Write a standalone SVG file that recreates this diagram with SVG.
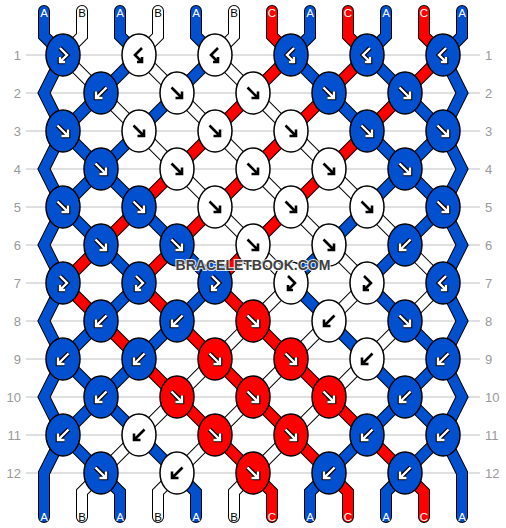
<svg xmlns="http://www.w3.org/2000/svg" xmlns:xlink="http://www.w3.org/1999/xlink" width="506" height="528" viewBox="0 0 506 528">
<style>
.rl{stroke:#c0c0c0;stroke-width:1}
.rn{font-family:"Liberation Sans",Arial,sans-serif;font-size:13px;fill:#999}
.sl{font-family:"Liberation Sans",Arial,sans-serif;font-size:11.5px;text-anchor:middle}
.lw{fill:#fff}.lb{fill:#000}
.o{fill:none;stroke:#000;stroke-width:12;stroke-linecap:round;stroke-linejoin:miter}
.f{fill:none;stroke-width:10;stroke-linecap:round;stroke-linejoin:miter}
.cA{stroke:#0050d0}.cB{stroke:#fff}.cC{stroke:#f00}
.kA,.kB,.kC{stroke:#000;stroke-width:1.5}
.kA{fill:#0050d0}.kB{fill:#fff}.kC{fill:#f00}
.ao{fill:none;stroke:#000;stroke-width:4.6}
.aw{fill:none;stroke:#fff;stroke-width:2.4}
.ab{fill:none;stroke:#000;stroke-width:2.6}
.wm{font-family:"Liberation Sans",Arial,sans-serif;font-weight:bold;font-size:14px;fill:#404040;stroke:#fff;stroke-opacity:0.85;stroke-width:2.2;paint-order:stroke;text-anchor:middle}
</style>
<defs>
<path id="gf" d="M-5.5,-5.5 L5,5 M5,-1.5 L5,5 L-1.5,5"/>
<path id="gb" d="M5.5,-5.5 L-5,5 M-5,-1.5 L-5,5 L1.5,5"/>
<path id="gfb" d="M-3,-7 L4,0 L-3,7 M-3,2 L-3,7 L2,7"/>
<path id="gbf" d="M3,-7 L-4,0 L3,7 M3,2 L3,7 L-2,7"/>
<path id="s0" d="M44,11 L44,36 L63,55 L44,93 L63,131 L101,169 L139,207 L177,245 L215,283 L177,321 L139,359 L101,397 L63,435 L44,473 L44,517"/>
<path id="s1" d="M82,11 L82,36 L63,55 L101,93 L139,131 L177,169 L215,207 L253,245 L291,283 L253,321 L215,359 L177,397 L139,435 L101,473 L82,492 L82,517"/>
<path id="s2" d="M120,11 L120,36 L139,55 L101,93 L63,131 L44,169 L63,207 L101,245 L139,283 L101,321 L63,359 L44,397 L63,435 L101,473 L120,492 L120,517"/>
<path id="s3" d="M158,11 L158,36 L139,55 L177,93 L215,131 L253,169 L291,207 L329,245 L367,283 L329,321 L291,359 L253,397 L215,435 L177,473 L158,492 L158,517"/>
<path id="s4" d="M196,11 L196,36 L215,55 L177,93 L139,131 L101,169 L63,207 L44,245 L63,283 L44,321 L63,359 L101,397 L139,435 L177,473 L196,492 L196,517"/>
<path id="s5" d="M234,11 L234,36 L215,55 L253,93 L291,131 L329,169 L367,207 L405,245 L443,283 L405,321 L367,359 L329,397 L291,435 L253,473 L234,492 L234,517"/>
<path id="s6" d="M272,11 L272,36 L291,55 L253,93 L215,131 L177,169 L139,207 L101,245 L63,283 L101,321 L139,359 L177,397 L215,435 L253,473 L272,492 L272,517"/>
<path id="s7" d="M310,11 L310,36 L291,55 L329,93 L367,131 L405,169 L443,207 L462,245 L443,283 L462,321 L443,359 L405,397 L367,435 L329,473 L310,492 L310,517"/>
<path id="s8" d="M348,11 L348,36 L367,55 L329,93 L291,131 L253,169 L215,207 L177,245 L139,283 L177,321 L215,359 L253,397 L291,435 L329,473 L348,492 L348,517"/>
<path id="s9" d="M386,11 L386,36 L367,55 L405,93 L443,131 L462,169 L443,207 L405,245 L367,283 L405,321 L443,359 L462,397 L443,435 L405,473 L386,492 L386,517"/>
<path id="s10" d="M424,11 L424,36 L443,55 L405,93 L367,131 L329,169 L291,207 L253,245 L215,283 L253,321 L291,359 L329,397 L367,435 L405,473 L424,492 L424,517"/>
<path id="s11" d="M462,11 L462,36 L443,55 L462,93 L443,131 L405,169 L367,207 L329,245 L291,283 L329,321 L367,359 L405,397 L443,435 L462,473 L462,517"/>
</defs>
<rect width="506" height="528" fill="#fff"/>
<g id="rows">
<line class="rl" x1="26" y1="55" x2="480" y2="55"/>
<line class="rl" x1="26" y1="93" x2="480" y2="93"/>
<line class="rl" x1="26" y1="131" x2="480" y2="131"/>
<line class="rl" x1="26" y1="169" x2="480" y2="169"/>
<line class="rl" x1="26" y1="207" x2="480" y2="207"/>
<line class="rl" x1="26" y1="245" x2="480" y2="245"/>
<line class="rl" x1="26" y1="283" x2="480" y2="283"/>
<line class="rl" x1="26" y1="321" x2="480" y2="321"/>
<line class="rl" x1="26" y1="359" x2="480" y2="359"/>
<line class="rl" x1="26" y1="397" x2="480" y2="397"/>
<line class="rl" x1="26" y1="435" x2="480" y2="435"/>
<line class="rl" x1="26" y1="473" x2="480" y2="473"/>
<g class="rn" text-anchor="end">
<text x="21" y="59.5">1</text><text x="21" y="97.5">2</text><text x="21" y="135.5">3</text><text x="21" y="173.5">4</text><text x="21" y="211.5">5</text><text x="21" y="249.5">6</text><text x="21" y="287.5">7</text><text x="21" y="325.5">8</text><text x="21" y="363.5">9</text><text x="21" y="401.5">10</text><text x="21" y="439.5">11</text><text x="21" y="477.5">12</text>
</g>
<g class="rn" text-anchor="start">
<text x="485" y="59.5">1</text><text x="485" y="97.5">2</text><text x="485" y="135.5">3</text><text x="485" y="173.5">4</text><text x="485" y="211.5">5</text><text x="485" y="249.5">6</text><text x="485" y="287.5">7</text><text x="485" y="325.5">8</text><text x="485" y="363.5">9</text><text x="485" y="401.5">10</text><text x="485" y="439.5">11</text><text x="485" y="477.5">12</text>
</g>
</g>
<g id="connectors">
<use href="#s0" class="o"/><use href="#s1" class="o"/><use href="#s2" class="o"/><use href="#s3" class="o"/><use href="#s4" class="o"/><use href="#s5" class="o"/><use href="#s6" class="o"/><use href="#s7" class="o"/><use href="#s8" class="o"/><use href="#s9" class="o"/><use href="#s10" class="o"/><use href="#s11" class="o"/>
<use href="#s0" class="f cA"/><use href="#s1" class="f cB"/><use href="#s2" class="f cA"/><use href="#s3" class="f cB"/><use href="#s4" class="f cA"/><use href="#s5" class="f cB"/><use href="#s6" class="f cC"/><use href="#s7" class="f cA"/><use href="#s8" class="f cC"/><use href="#s9" class="f cA"/><use href="#s10" class="f cC"/><use href="#s11" class="f cA"/>
</g>
<g id="labels">
<g class="sl">
<text class="lw" x="44" y="17">A</text><text class="lb" x="82" y="17">B</text><text class="lw" x="120" y="17">A</text><text class="lb" x="158" y="17">B</text><text class="lw" x="196" y="17">A</text><text class="lb" x="234" y="17">B</text><text class="lw" x="272" y="17">C</text><text class="lw" x="310" y="17">A</text><text class="lw" x="348" y="17">C</text><text class="lw" x="386" y="17">A</text><text class="lw" x="424" y="17">C</text><text class="lw" x="462" y="17">A</text>
<text class="lw" x="44" y="521">A</text><text class="lb" x="82" y="521">B</text><text class="lw" x="120" y="521">A</text><text class="lb" x="158" y="521">B</text><text class="lw" x="196" y="521">A</text><text class="lb" x="234" y="521">B</text><text class="lw" x="272" y="521">C</text><text class="lw" x="310" y="521">A</text><text class="lw" x="348" y="521">C</text><text class="lw" x="386" y="521">A</text><text class="lw" x="424" y="521">C</text><text class="lw" x="462" y="521">A</text>
</g>
</g>
<g id="knots">
<g id="k1-1" transform="translate(63,55)"><ellipse class="kA" rx="17" ry="21"/><use href="#gfb" class="ao"/><use href="#gfb" class="aw"/></g>
<g id="k1-2" transform="translate(139,55)"><ellipse class="kB" rx="17" ry="21"/><use href="#gbf" class="ab"/></g>
<g id="k1-3" transform="translate(215,55)"><ellipse class="kB" rx="17" ry="21"/><use href="#gbf" class="ab"/></g>
<g id="k1-4" transform="translate(291,55)"><ellipse class="kA" rx="17" ry="21"/><use href="#gbf" class="ao"/><use href="#gbf" class="aw"/></g>
<g id="k1-5" transform="translate(367,55)"><ellipse class="kA" rx="17" ry="21"/><use href="#gbf" class="ao"/><use href="#gbf" class="aw"/></g>
<g id="k1-6" transform="translate(443,55)"><ellipse class="kA" rx="17" ry="21"/><use href="#gbf" class="ao"/><use href="#gbf" class="aw"/></g>

<g id="k2-1" transform="translate(101,93)"><ellipse class="kA" rx="17" ry="21"/><use href="#gb" class="ao"/><use href="#gb" class="aw"/></g>
<g id="k2-2" transform="translate(177,93)"><ellipse class="kB" rx="17" ry="21"/><use href="#gf" class="ab"/></g>
<g id="k2-3" transform="translate(253,93)"><ellipse class="kB" rx="17" ry="21"/><use href="#gf" class="ab"/></g>
<g id="k2-4" transform="translate(329,93)"><ellipse class="kA" rx="17" ry="21"/><use href="#gf" class="ao"/><use href="#gf" class="aw"/></g>
<g id="k2-5" transform="translate(405,93)"><ellipse class="kA" rx="17" ry="21"/><use href="#gf" class="ao"/><use href="#gf" class="aw"/></g>

<g id="k3-1" transform="translate(63,131)"><ellipse class="kA" rx="17" ry="21"/><use href="#gf" class="ao"/><use href="#gf" class="aw"/></g>
<g id="k3-2" transform="translate(139,131)"><ellipse class="kB" rx="17" ry="21"/><use href="#gf" class="ab"/></g>
<g id="k3-3" transform="translate(215,131)"><ellipse class="kB" rx="17" ry="21"/><use href="#gf" class="ab"/></g>
<g id="k3-4" transform="translate(291,131)"><ellipse class="kB" rx="17" ry="21"/><use href="#gf" class="ab"/></g>
<g id="k3-5" transform="translate(367,131)"><ellipse class="kA" rx="17" ry="21"/><use href="#gf" class="ao"/><use href="#gf" class="aw"/></g>
<g id="k3-6" transform="translate(443,131)"><ellipse class="kA" rx="17" ry="21"/><use href="#gf" class="ao"/><use href="#gf" class="aw"/></g>

<g id="k4-1" transform="translate(101,169)"><ellipse class="kA" rx="17" ry="21"/><use href="#gf" class="ao"/><use href="#gf" class="aw"/></g>
<g id="k4-2" transform="translate(177,169)"><ellipse class="kB" rx="17" ry="21"/><use href="#gf" class="ab"/></g>
<g id="k4-3" transform="translate(253,169)"><ellipse class="kB" rx="17" ry="21"/><use href="#gf" class="ab"/></g>
<g id="k4-4" transform="translate(329,169)"><ellipse class="kB" rx="17" ry="21"/><use href="#gf" class="ab"/></g>
<g id="k4-5" transform="translate(405,169)"><ellipse class="kA" rx="17" ry="21"/><use href="#gf" class="ao"/><use href="#gf" class="aw"/></g>

<g id="k5-1" transform="translate(63,207)"><ellipse class="kA" rx="17" ry="21"/><use href="#gf" class="ao"/><use href="#gf" class="aw"/></g>
<g id="k5-2" transform="translate(139,207)"><ellipse class="kA" rx="17" ry="21"/><use href="#gf" class="ao"/><use href="#gf" class="aw"/></g>
<g id="k5-3" transform="translate(215,207)"><ellipse class="kB" rx="17" ry="21"/><use href="#gf" class="ab"/></g>
<g id="k5-4" transform="translate(291,207)"><ellipse class="kB" rx="17" ry="21"/><use href="#gf" class="ab"/></g>
<g id="k5-5" transform="translate(367,207)"><ellipse class="kB" rx="17" ry="21"/><use href="#gf" class="ab"/></g>
<g id="k5-6" transform="translate(443,207)"><ellipse class="kA" rx="17" ry="21"/><use href="#gf" class="ao"/><use href="#gf" class="aw"/></g>

<g id="k6-1" transform="translate(101,245)"><ellipse class="kA" rx="17" ry="21"/><use href="#gf" class="ao"/><use href="#gf" class="aw"/></g>
<g id="k6-2" transform="translate(177,245)"><ellipse class="kA" rx="17" ry="21"/><use href="#gf" class="ao"/><use href="#gf" class="aw"/></g>
<g id="k6-3" transform="translate(253,245)"><ellipse class="kB" rx="17" ry="21"/><use href="#gf" class="ab"/></g>
<g id="k6-4" transform="translate(329,245)"><ellipse class="kB" rx="17" ry="21"/><use href="#gf" class="ab"/></g>
<g id="k6-5" transform="translate(405,245)"><ellipse class="kA" rx="17" ry="21"/><use href="#gb" class="ao"/><use href="#gb" class="aw"/></g>

<g id="k7-1" transform="translate(63,283)"><ellipse class="kA" rx="17" ry="21"/><use href="#gfb" class="ao"/><use href="#gfb" class="aw"/></g>
<g id="k7-2" transform="translate(139,283)"><ellipse class="kA" rx="17" ry="21"/><use href="#gfb" class="ao"/><use href="#gfb" class="aw"/></g>
<g id="k7-3" transform="translate(215,283)"><ellipse class="kA" rx="17" ry="21"/><use href="#gfb" class="ao"/><use href="#gfb" class="aw"/></g>
<g id="k7-4" transform="translate(291,283)"><ellipse class="kB" rx="17" ry="21"/><use href="#gfb" class="ab"/></g>
<g id="k7-5" transform="translate(367,283)"><ellipse class="kB" rx="17" ry="21"/><use href="#gfb" class="ab"/></g>
<g id="k7-6" transform="translate(443,283)"><ellipse class="kA" rx="17" ry="21"/><use href="#gbf" class="ao"/><use href="#gbf" class="aw"/></g>

<g id="k8-1" transform="translate(101,321)"><ellipse class="kA" rx="17" ry="21"/><use href="#gb" class="ao"/><use href="#gb" class="aw"/></g>
<g id="k8-2" transform="translate(177,321)"><ellipse class="kA" rx="17" ry="21"/><use href="#gb" class="ao"/><use href="#gb" class="aw"/></g>
<g id="k8-3" transform="translate(253,321)"><ellipse class="kC" rx="17" ry="21"/><use href="#gf" class="ao"/><use href="#gf" class="aw"/></g>
<g id="k8-4" transform="translate(329,321)"><ellipse class="kB" rx="17" ry="21"/><use href="#gb" class="ab"/></g>
<g id="k8-5" transform="translate(405,321)"><ellipse class="kA" rx="17" ry="21"/><use href="#gf" class="ao"/><use href="#gf" class="aw"/></g>

<g id="k9-1" transform="translate(63,359)"><ellipse class="kA" rx="17" ry="21"/><use href="#gb" class="ao"/><use href="#gb" class="aw"/></g>
<g id="k9-2" transform="translate(139,359)"><ellipse class="kA" rx="17" ry="21"/><use href="#gb" class="ao"/><use href="#gb" class="aw"/></g>
<g id="k9-3" transform="translate(215,359)"><ellipse class="kC" rx="17" ry="21"/><use href="#gf" class="ao"/><use href="#gf" class="aw"/></g>
<g id="k9-4" transform="translate(291,359)"><ellipse class="kC" rx="17" ry="21"/><use href="#gf" class="ao"/><use href="#gf" class="aw"/></g>
<g id="k9-5" transform="translate(367,359)"><ellipse class="kB" rx="17" ry="21"/><use href="#gb" class="ab"/></g>
<g id="k9-6" transform="translate(443,359)"><ellipse class="kA" rx="17" ry="21"/><use href="#gb" class="ao"/><use href="#gb" class="aw"/></g>

<g id="k10-1" transform="translate(101,397)"><ellipse class="kA" rx="17" ry="21"/><use href="#gb" class="ao"/><use href="#gb" class="aw"/></g>
<g id="k10-2" transform="translate(177,397)"><ellipse class="kC" rx="17" ry="21"/><use href="#gf" class="ao"/><use href="#gf" class="aw"/></g>
<g id="k10-3" transform="translate(253,397)"><ellipse class="kC" rx="17" ry="21"/><use href="#gf" class="ao"/><use href="#gf" class="aw"/></g>
<g id="k10-4" transform="translate(329,397)"><ellipse class="kC" rx="17" ry="21"/><use href="#gf" class="ao"/><use href="#gf" class="aw"/></g>
<g id="k10-5" transform="translate(405,397)"><ellipse class="kA" rx="17" ry="21"/><use href="#gb" class="ao"/><use href="#gb" class="aw"/></g>

<g id="k11-1" transform="translate(63,435)"><ellipse class="kA" rx="17" ry="21"/><use href="#gb" class="ao"/><use href="#gb" class="aw"/></g>
<g id="k11-2" transform="translate(139,435)"><ellipse class="kB" rx="17" ry="21"/><use href="#gb" class="ab"/></g>
<g id="k11-3" transform="translate(215,435)"><ellipse class="kC" rx="17" ry="21"/><use href="#gf" class="ao"/><use href="#gf" class="aw"/></g>
<g id="k11-4" transform="translate(291,435)"><ellipse class="kC" rx="17" ry="21"/><use href="#gf" class="ao"/><use href="#gf" class="aw"/></g>
<g id="k11-5" transform="translate(367,435)"><ellipse class="kA" rx="17" ry="21"/><use href="#gb" class="ao"/><use href="#gb" class="aw"/></g>
<g id="k11-6" transform="translate(443,435)"><ellipse class="kA" rx="17" ry="21"/><use href="#gb" class="ao"/><use href="#gb" class="aw"/></g>

<g id="k12-1" transform="translate(101,473)"><ellipse class="kA" rx="17" ry="21"/><use href="#gf" class="ao"/><use href="#gf" class="aw"/></g>
<g id="k12-2" transform="translate(177,473)"><ellipse class="kB" rx="17" ry="21"/><use href="#gb" class="ab"/></g>
<g id="k12-3" transform="translate(253,473)"><ellipse class="kC" rx="17" ry="21"/><use href="#gf" class="ao"/><use href="#gf" class="aw"/></g>
<g id="k12-4" transform="translate(329,473)"><ellipse class="kA" rx="17" ry="21"/><use href="#gb" class="ao"/><use href="#gb" class="aw"/></g>
<g id="k12-5" transform="translate(405,473)"><ellipse class="kA" rx="17" ry="21"/><use href="#gb" class="ao"/><use href="#gb" class="aw"/></g>
</g>
<text id="watermark" class="wm" x="253" y="269.5">BRACELETBOOK.COM</text>
</svg>
